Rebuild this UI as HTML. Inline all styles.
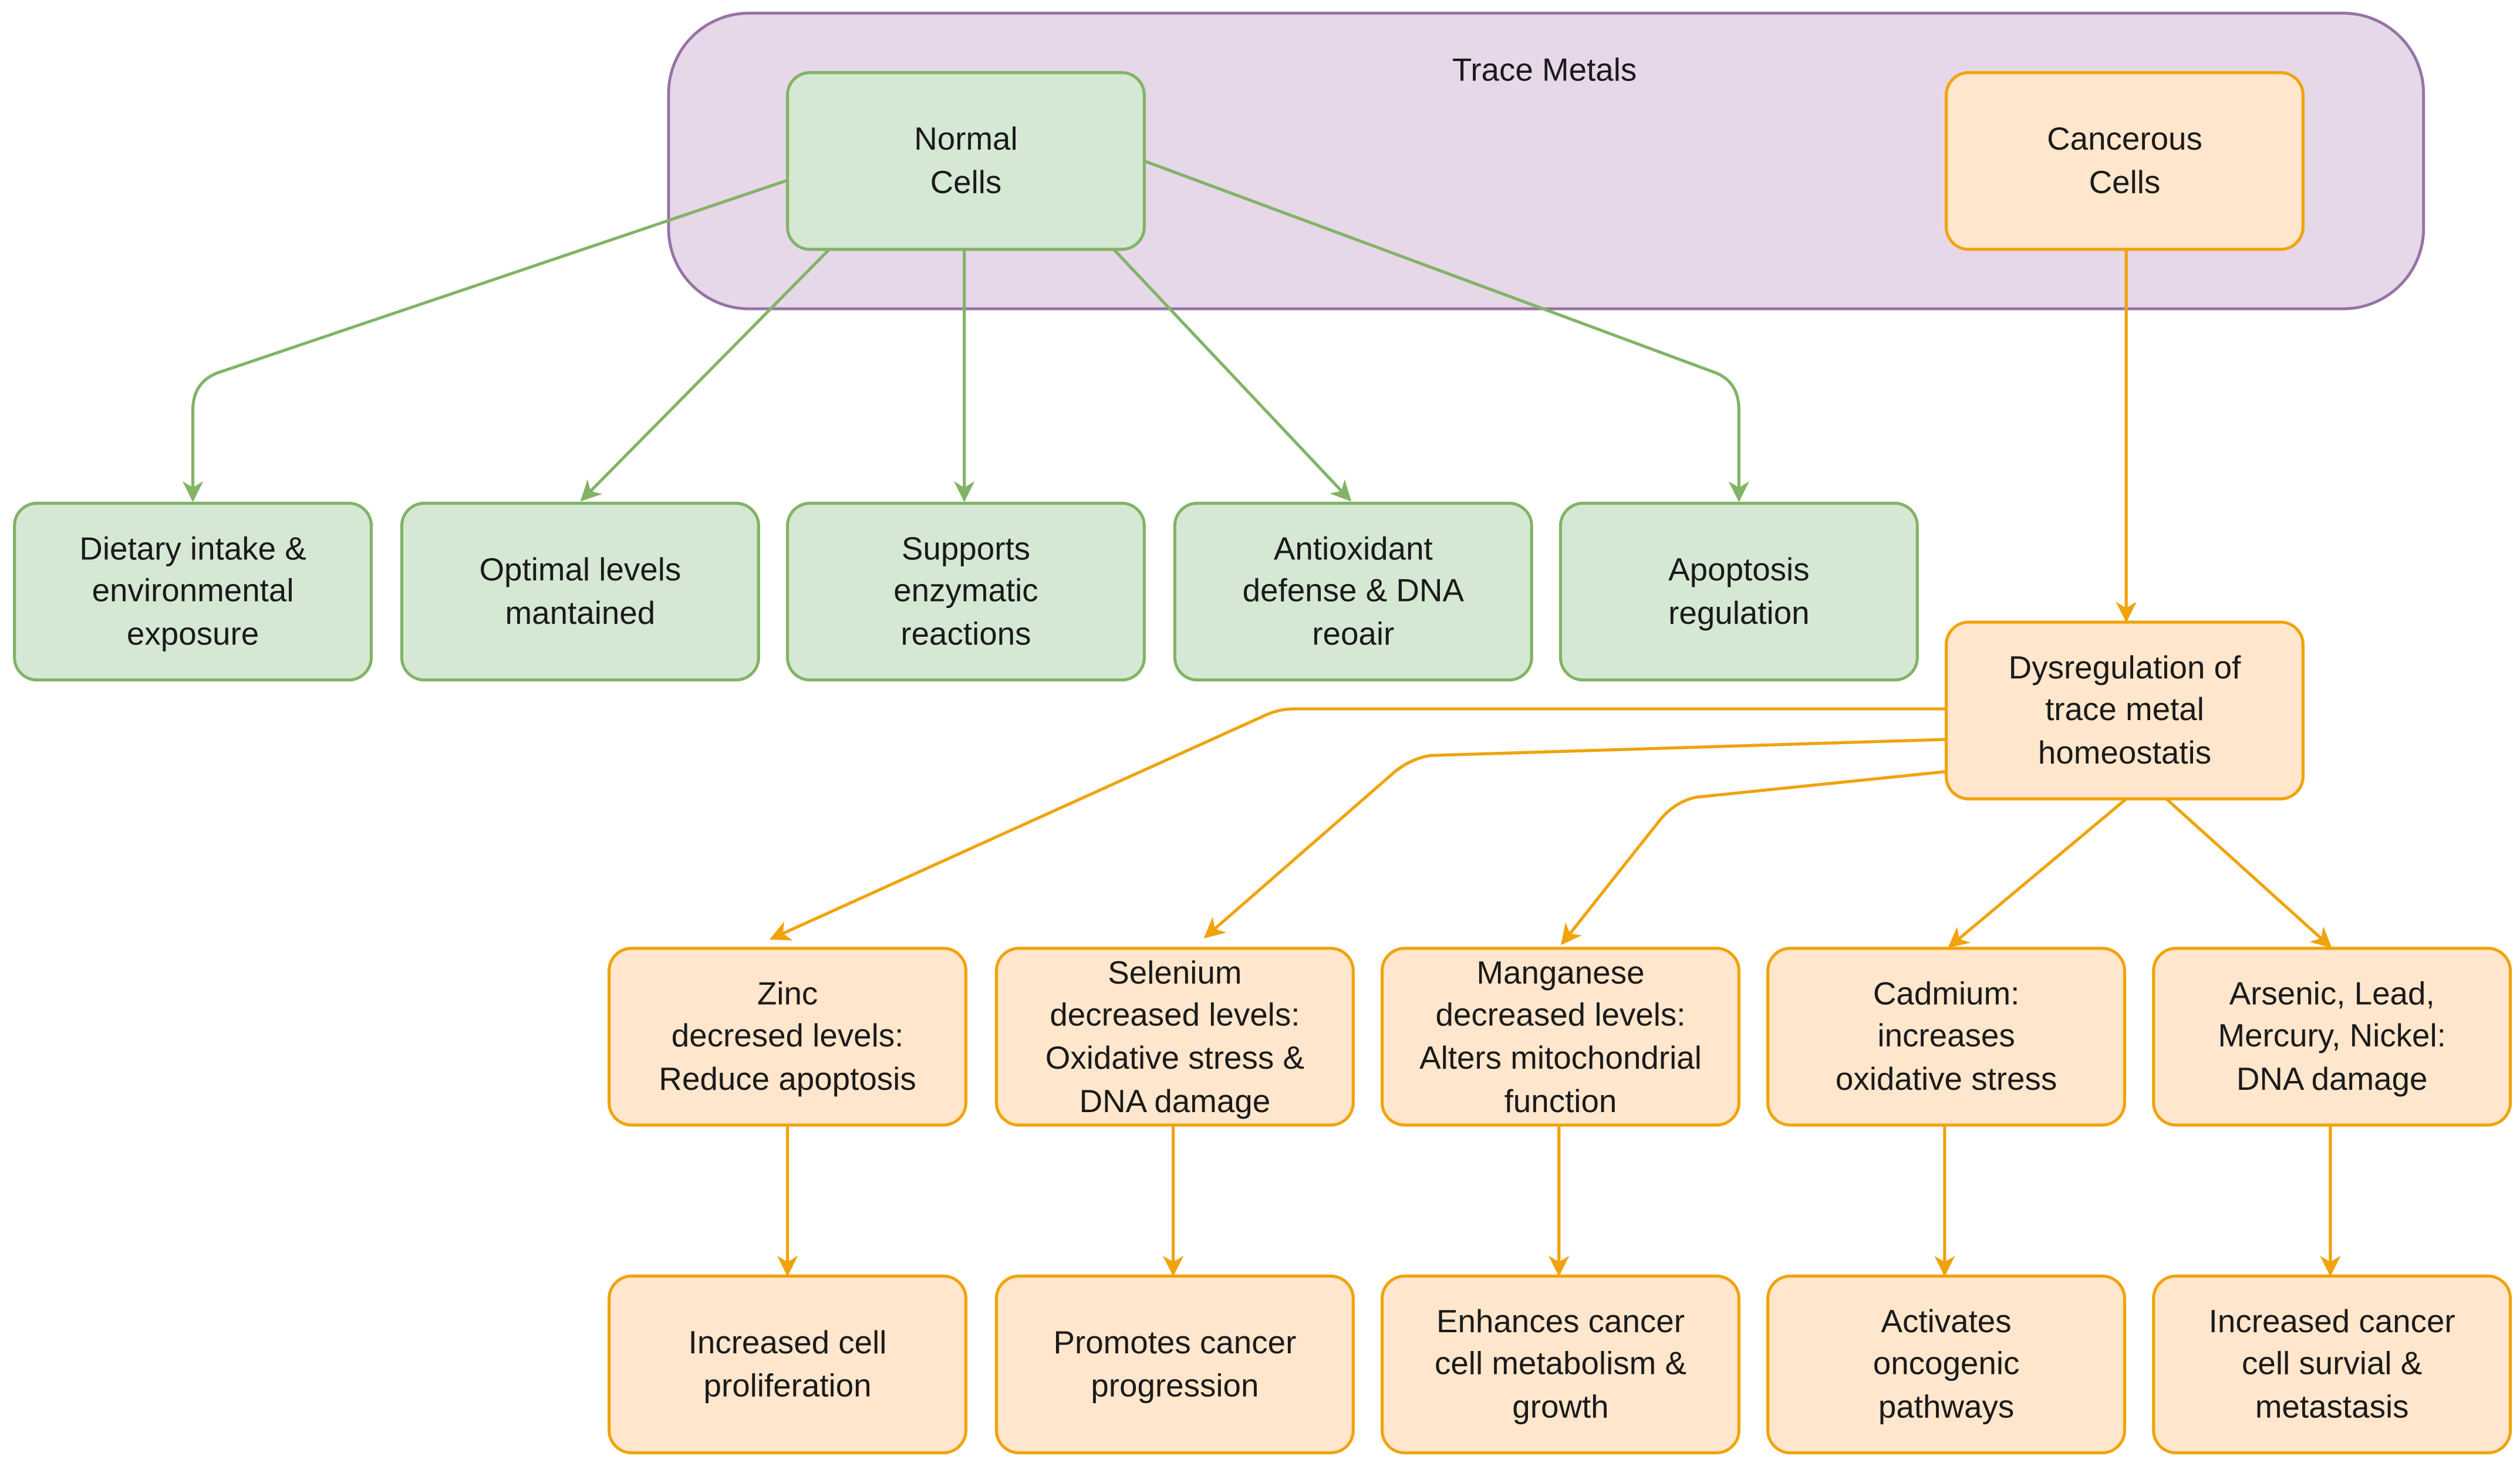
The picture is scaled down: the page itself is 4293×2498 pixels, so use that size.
<!DOCTYPE html>
<html><head><meta charset="utf-8"><style>
html,body{margin:0;padding:0;background:#fff;}
svg{display:block;}
text{font-family:"Liberation Sans",sans-serif;font-size:20px;fill:#1a1a1a;text-anchor:middle;}
</style></head><body>
<svg width="4293" height="2498" viewBox="0 0 1568 912" xmlns="http://www.w3.org/2000/svg">
<defs>
<marker id="ag" viewBox="0 0 10 10" refX="9" refY="5" markerWidth="13" markerHeight="13" orient="auto" markerUnits="userSpaceOnUse"><path d="M0,0 L10,5 L0,10 L3,5 z" fill="#82b366"/></marker>
<marker id="ao" viewBox="0 0 10 10" refX="9" refY="5" markerWidth="13" markerHeight="13" orient="auto" markerUnits="userSpaceOnUse"><path d="M0,0 L10,5 L0,10 L3,5 z" fill="#f0a30a"/></marker>
</defs>
<rect x="416" y="8" width="1092" height="184" rx="50" fill="#e6d7e9" stroke="#9673a6" stroke-width="1.8"/>
<text x="961" y="50">Trace Metals</text>

<g fill="none" stroke="#82b366" stroke-width="1.9" marker-end="url(#ag)">
<path d="M490,112 L135,232 Q120,238 120,255 L120,311"/>
<path d="M518,153 L362,311"/>
<path d="M600,155 L600,311"/>
<path d="M693,155 L840,311"/>
<path d="M712,100 L1068,232 Q1082,238 1082,255 L1082,311"/>
</g>
<g fill="none" stroke="#f0a30a" stroke-width="1.9" marker-end="url(#ao)">
<path d="M1323,155 L1323,386"/>
<path d="M1211,441 L805,441 Q795,441 785,446 L480,584"/>
<path d="M1211,460 L890,470 Q878,472 868,480 L750,583"/>
<path d="M1211,480 L1055,496 Q1042,499 1033,510 L972,587"/>
<path d="M1323,497 L1213,589"/>
<path d="M1348,497 L1450,589"/>
<path d="M490,700 L490,793"/>
<path d="M730,700 L730,793"/>
<path d="M970,700 L970,793"/>
<path d="M1210,700 L1210,793"/>
<path d="M1450,700 L1450,793"/>
</g>

<g fill="#d5e8d4" stroke="#82b366" stroke-width="1.9">
<rect x="490" y="45" width="222" height="110" rx="14"/>
<rect x="9" y="313" width="222" height="110" rx="14"/>
<rect x="250" y="313" width="222" height="110" rx="14"/>
<rect x="490" y="313" width="222" height="110" rx="14"/>
<rect x="731" y="313" width="222" height="110" rx="14"/>
<rect x="971" y="313" width="222" height="110" rx="14"/>
</g>
<g fill="#ffe6cc" stroke="#f0a30a" stroke-width="1.9">
<rect x="1211" y="45" width="222" height="110" rx="14"/>
<rect x="1211" y="387" width="222" height="110" rx="14"/>
<rect x="379" y="590" width="222" height="110" rx="14"/>
<rect x="620" y="590" width="222" height="110" rx="14"/>
<rect x="860" y="590" width="222" height="110" rx="14"/>
<rect x="1100" y="590" width="222" height="110" rx="14"/>
<rect x="1340" y="590" width="222" height="110" rx="14"/>
<rect x="379" y="794" width="222" height="110" rx="14"/>
<rect x="620" y="794" width="222" height="110" rx="14"/>
<rect x="860" y="794" width="222" height="110" rx="14"/>
<rect x="1100" y="794" width="222" height="110" rx="14"/>
<rect x="1340" y="794" width="222" height="110" rx="14"/>
</g>

<text x="601" y="93">Normal</text><text x="601" y="120">Cells</text>
<text x="1322" y="93">Cancerous</text><text x="1322" y="120">Cells</text>

<text x="120" y="348">Dietary intake &amp;</text><text x="120" y="374">environmental</text><text x="120" y="401">exposure</text>
<text x="361" y="361">Optimal levels</text><text x="361" y="388">mantained</text>
<text x="601" y="348">Supports</text><text x="601" y="374">enzymatic</text><text x="601" y="401">reactions</text>
<text x="842" y="348">Antioxidant</text><text x="842" y="374">defense &amp; DNA</text><text x="842" y="401">reoair</text>
<text x="1082" y="361">Apoptosis</text><text x="1082" y="388">regulation</text>

<text x="1322" y="422">Dysregulation of</text><text x="1322" y="448">trace metal</text><text x="1322" y="475">homeostatis</text>

<text x="490" y="625">Zinc</text><text x="490" y="651">decresed levels:</text><text x="490" y="678">Reduce apoptosis</text>
<text x="731" y="612">Selenium</text><text x="731" y="638">decreased levels:</text><text x="731" y="665">Oxidative stress &amp;</text><text x="731" y="692">DNA damage</text>
<text x="971" y="612">Manganese</text><text x="971" y="638">decreased levels:</text><text x="971" y="665">Alters mitochondrial</text><text x="971" y="692">function</text>
<text x="1211" y="625">Cadmium:</text><text x="1211" y="651">increases</text><text x="1211" y="678">oxidative stress</text>
<text x="1451" y="625">Arsenic, Lead,</text><text x="1451" y="651">Mercury, Nickel:</text><text x="1451" y="678">DNA damage</text>

<text x="490" y="842">Increased cell</text><text x="490" y="869">proliferation</text>
<text x="731" y="842">Promotes cancer</text><text x="731" y="869">progression</text>
<text x="971" y="829">Enhances cancer</text><text x="971" y="855">cell metabolism &amp;</text><text x="971" y="882">growth</text>
<text x="1211" y="829">Activates</text><text x="1211" y="855">oncogenic</text><text x="1211" y="882">pathways</text>
<text x="1451" y="829">Increased cancer</text><text x="1451" y="855">cell survial &amp;</text><text x="1451" y="882">metastasis</text>
</svg>
</body></html>
